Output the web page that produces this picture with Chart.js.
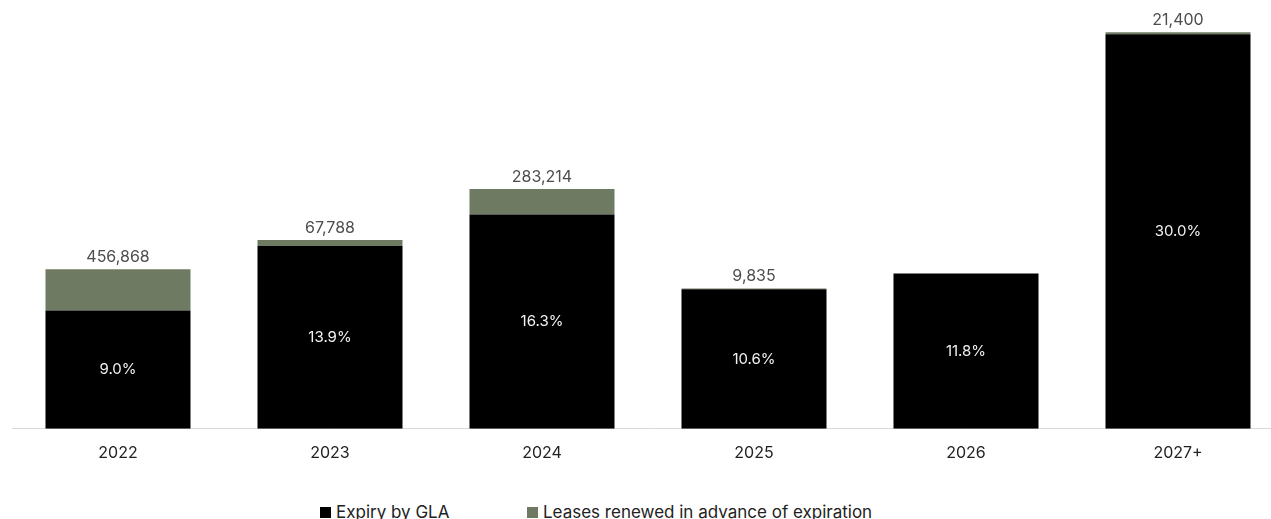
<!DOCTYPE html>
<html>
<head>
<meta charset="utf-8">
<script src="https://cdn.jsdelivr.net/npm/chart.js@4/dist/chart.umd.min.js"></script>
<style>
  html, body { margin: 0; padding: 0; background: #fff; overflow: hidden; }
  #wrap { position: relative; width: 1284px; height: 519px; }
  #box { position: absolute; left: 0; top: 0; width: 1284px; height: 478px; }
  #legend { position: absolute; left: 0; top: 502px; font: 17px Inter, "Noto Sans", sans-serif; color: #222; white-space: nowrap; }
  #legend span.item { position: absolute; top: 0; display: flex; align-items: center; }
  #legend i { display: inline-block; width: 11px; height: 11px; margin-right: 5px; }
</style>
</head>
<body>
<div id="wrap">
  <div id="box"><canvas id="leaseChart"></canvas></div>
  <div id="legend"></div>
</div>
<script>
const years = ["2022", "2023", "2024", "2025", "2026", "2027+"];
// share of GLA expiring each year (%)
const expiryPct = [9.0, 13.9, 16.3, 10.6, 11.8, 30.0];
// sq ft already renewed ahead of expiry
const renewedSqFt = [456868, 67788, 283214, 9835, null, 21400];
// sq ft represented by one percentage point of GLA
const sqFtPerPoint = 146400;

const expiryColor = "#000000";
const renewedColor = "#6e7b62";

const barLabels = {
  id: "barLabels",
  afterDatasetsDraw(chart) {
    const ctx = chart.ctx;
    ctx.save();
    ctx.textAlign = "center";
    ctx.font = "15px Inter, 'Noto Sans', sans-serif";

    // percentage inside the black bars
    ctx.fillStyle = "#f2f2f2";
    ctx.textBaseline = "middle";
    chart.getDatasetMeta(0).data.forEach((bar, i) => {
      const mid = (bar.y + bar.base) / 2;
      ctx.fillText(expiryPct[i].toFixed(1) + "%", bar.x, mid);
    });

    // renewed sq ft above the stack
    ctx.font = "16px Inter, 'Noto Sans', sans-serif";
    ctx.fillStyle = "#4d4d4d";
    ctx.textBaseline = "bottom";
    chart.getDatasetMeta(1).data.forEach((bar, i) => {
      if (renewedSqFt[i] == null) return;
      ctx.fillText(renewedSqFt[i].toLocaleString("en-US"), bar.x, bar.y - 4);
    });
    ctx.restore();
  }
};

const chart = new Chart("leaseChart", {
  type: "bar",
  data: {
    labels: years,
    datasets: [
      {
        label: "Expiry by GLA",
        data: expiryPct,
        backgroundColor: expiryColor
      },
      {
        label: "Leases renewed in advance of expiration",
        data: renewedSqFt.map(v => v == null ? null : v / sqFtPerPoint),
        backgroundColor: renewedColor
      }
    ]
  },
  options: {
    responsive: true,
    maintainAspectRatio: false,
    animation: false,
    barPercentage: 0.684,
    categoryPercentage: 1.0,
    layout: { padding: { left: 12, right: 0, top: 0, bottom: 0 } },
    plugins: {
      legend: { display: false },
      tooltip: { enabled: false }
    },
    scales: {
      x: {
        stacked: true,
        grid: { display: false, drawTicks: false },
        border: { display: true, color: "#d9d9d9", width: 1 },
        ticks: {
          padding: 15,
          color: "#222",
          font: { family: "Inter, 'Noto Sans', sans-serif", size: 16 }
        }
      },
      y: {
        stacked: true,
        display: false,
        min: 0,
        max: 32.6
      }
    }
  },
  plugins: [barLabels]
});

// legend row under the chart
const legend = document.getElementById("legend");
const legendLeft = [320, 527];
chart.data.datasets.forEach((ds, i) => {
  const item = document.createElement("span");
  item.className = "item";
  item.style.left = legendLeft[i] + "px";
  const sw = document.createElement("i");
  sw.style.background = ds.backgroundColor;
  item.appendChild(sw);
  item.appendChild(document.createTextNode(ds.label));
  legend.appendChild(item);
});
</script>
</body>
</html>
